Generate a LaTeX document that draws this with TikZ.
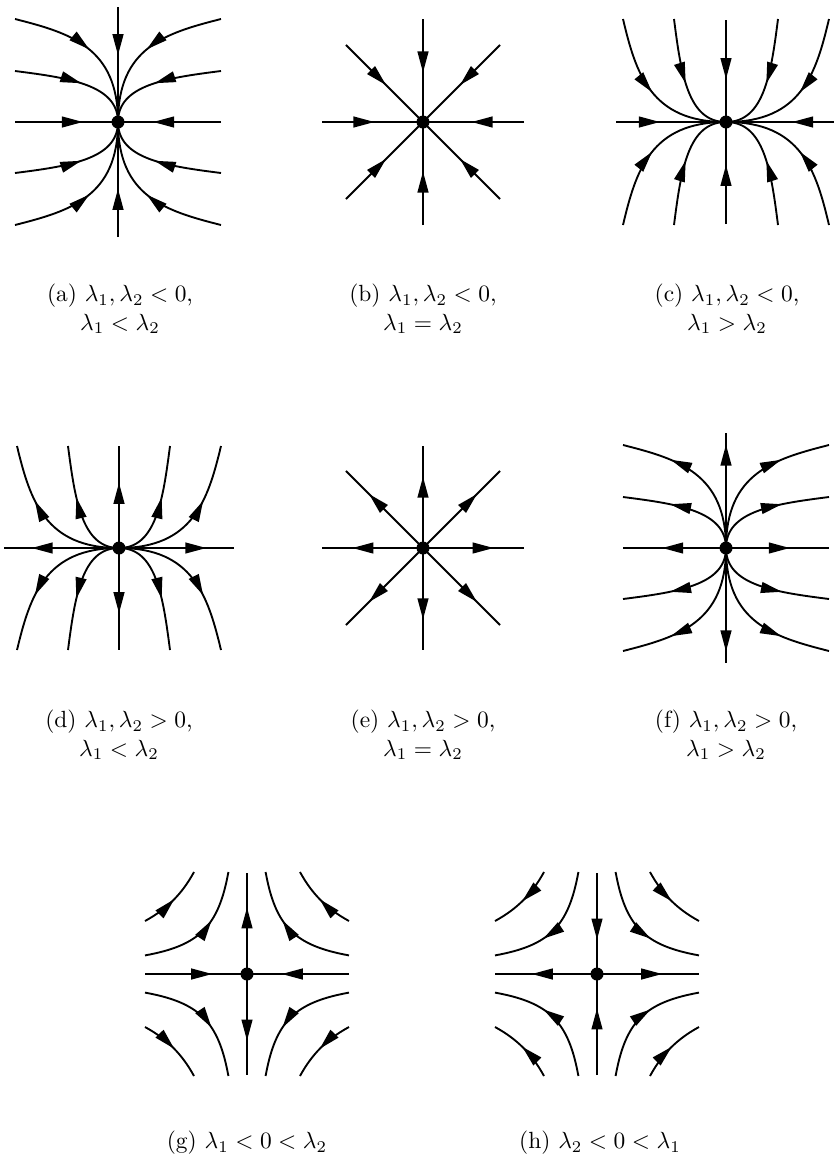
\documentclass[tikz,border=0pt]{standalone}
\usepackage{amsmath}
\usepackage{tikz}
\usetikzlibrary{
	arrows.meta,
	decorations.markings
}

\tikzset{
	flow/.style={
		decoration={markings, mark=at position #1 with {\arrow{Triangle[length=9pt,width=4.6pt]}}},
		postaction={decorate}
	},
	caption/.style={align=center, font=\normalsize}
}

\begin{document}
\begin{tikzpicture}[x=0.15mm, y=0.15mm, line width=0.8pt]
	\useasboundingbox (0,0) rectangle (834,-1162);
	
	% (a) 稳定结点 λ1 < λ2 < 0
	\begin{scope}[shift={(118,-122)}]
		\coordinate (O) at (0,0);
		\foreach \sx in {-1,1} {
			\draw[flow=0.66] (\sx*103,0) -- (O);
			\foreach \sy in {-1,1} {
				\draw[flow=0.5] (\sx*103,\sy*103) .. controls (\sx*48,\sy*89) and (0,\sy*75) .. (O);
				\draw[flow=0.54] (\sx*103,\sy*51) .. controls (\sx*48,\sy*44) and (0,\sy*37) .. (O);
			}
		}
		\foreach \sy in {-1,1} \draw[flow=0.42] (0,\sy*115) -- (O);
		\fill (O) circle (6.5);
	\end{scope}
	\node[caption] (capa) at (120,-309) {(a) $\lambda_1, \lambda_2 < 0$,\\ $\lambda_1 < \lambda_2$};
	
	% (b) 稳定星形结点
	\begin{scope}[shift={(423,-122)}]
		\coordinate (O) at (0,0);
		\foreach \a/\r in {0/101, 90/103, 180/101, 270/103, 45/109, 135/109, 225/109, 315/109}
			\draw[flow=0.52] (\a:\r) -- (O);
		\fill (O) circle (6.5);
	\end{scope}
	\node[caption] (capb) at (423,-309) {(b) $\lambda_1, \lambda_2 < 0$,\\ $\lambda_1 = \lambda_2$};
	
	% (c) 稳定结点 λ2 < λ1 < 0
	\begin{scope}[shift={(726,-122)}]
		\coordinate (O) at (0,0);
		\foreach \sx in {-1,1} {
			\draw[flow=0.4] (\sx*110,0) -- (O);
			\foreach \sy in {-1,1} {
				\draw[flow=0.49] (\sx*103,\sy*103) .. controls (\sx*90,\sy*48) and (\sx*75,0) .. (O);
				\draw[flow=0.52] (\sx*52,\sy*103) .. controls (\sx*45,\sy*48) and (\sx*38,0) .. (O);
			}
		}
		\foreach \sy in {-1,1} \draw[flow=0.58] (0,\sy*102) -- (O);
		\fill (O) circle (6.5);
	\end{scope}
	\node[caption] (capc) at (727,-309) {(c) $\lambda_1, \lambda_2 < 0$,\\ $\lambda_1 > \lambda_2$};
	
	% (d) 不稳定结点 0 < λ1 < λ2
	\begin{scope}[shift={(119,-548)}]
		\coordinate (O) at (0,0);
		\foreach \sx in {-1,1} {
			\draw[flow=0.76] (O) -- (\sx*115,0);
			\foreach \sy in {-1,1} {
				\draw[flow=0.64] (O) .. controls (\sx*74,0) and (\sx*89,\sy*48) .. (\sx*102,\sy*102);
				\draw[flow=0.58] (O) .. controls (\sx*37,0) and (\sx*44,\sy*48) .. (\sx*51,\sy*102);
			}
		}
		\foreach \sy in {-1,1} \draw[flow=0.64] (O) -- (0,\sy*102);
		\fill (O) circle (6.5);
	\end{scope}
	\node[caption] (capd) at (119,-735) {(d) $\lambda_1, \lambda_2 > 0$,\\ $\lambda_1 < \lambda_2$};
	
	% (e) 不稳定星形结点
	\begin{scope}[shift={(423,-548)}]
		\coordinate (O) at (0,0);
		\foreach \a/\r in {0/101, 90/102, 180/101, 270/102, 45/109, 135/109, 225/109, 315/109}
			\draw[flow=0.7] (O) -- (\a:\r);
		\fill (O) circle (6.5);
	\end{scope}
	\node[caption] (cape) at (423,-735) {(e) $\lambda_1, \lambda_2 > 0$,\\ $\lambda_1 = \lambda_2$};
	
	% (f) 不稳定结点 0 < λ2 < λ1
	\begin{scope}[shift={(726,-548)}]
		\coordinate (O) at (0,0);
		\foreach \sx in {-1,1} {
			\draw[flow=0.62] (O) -- (\sx*103,0);
			\foreach \sy in {-1,1} {
				\draw[flow=0.69] (O) .. controls (0,\sy*75) and (\sx*48,\sy*89) .. (\sx*103,\sy*103);
				\draw[flow=0.62] (O) .. controls (0,\sy*37) and (\sx*48,\sy*44) .. (\sx*103,\sy*51);
			}
		}
		\foreach \sy in {-1,1} \draw[flow=0.9] (O) -- (0,\sy*115);
		\fill (O) circle (6.5);
	\end{scope}
	\node[caption] (capf) at (726,-735) {(f) $\lambda_1, \lambda_2 > 0$,\\ $\lambda_1 > \lambda_2$};
	
	% (g) 鞍点 λ1 < 0 < λ2
	\begin{scope}[shift={(247,-974)}]
		\coordinate (O) at (0,0);
		\foreach \sx in {-1,1} {
			\draw[flow=0.66] (\sx*102,0) -- (O);
			\foreach \sy in {-1,1} {
				\draw[flow=0.52] (\sx*102,\sy*53) .. controls (\sx*80,\sy*65) and (\sx*65,\sy*80) .. (\sx*53,\sy*102);
				\draw[flow=0.6] (\sx*102,\sy*18.6) .. controls (\sx*47.5,\sy*28.5) and (\sx*28.5,\sy*47.5) .. (\sx*18.6,\sy*102);
			}
		}
		\foreach \sy in {-1,1} \draw[flow=0.66] (O) -- (0,\sy*101);
		\fill (O) circle (6.5);
	\end{scope}
	\node[caption] (capg) at (247,-1143) {(g) $\lambda_1 < 0 < \lambda_2$};
	
	% (h) 鞍点 λ2 < 0 < λ1
	\begin{scope}[shift={(597,-974)}]
		\coordinate (O) at (0,0);
		\foreach \sx in {-1,1} {
			\draw[flow=0.64] (O) -- (\sx*102,0);
			\foreach \sy in {-1,1} {
				\draw[flow=0.52] (\sx*53,\sy*102) .. controls (\sx*65,\sy*80) and (\sx*80,\sy*65) .. (\sx*102,\sy*53);
				\draw[flow=0.6] (\sx*18.6,\sy*102) .. controls (\sx*28.5,\sy*47.5) and (\sx*47.5,\sy*28.5) .. (\sx*102,\sy*18.6);
			}
		}
		\foreach \sy in {-1,1} \draw[flow=0.66] (0,\sy*101) -- (O);
		\fill (O) circle (6.5);
	\end{scope}
	\node[caption] (caph) at (600,-1143) {(h) $\lambda_2 < 0 < \lambda_1$};
\end{tikzpicture}
\end{document}
